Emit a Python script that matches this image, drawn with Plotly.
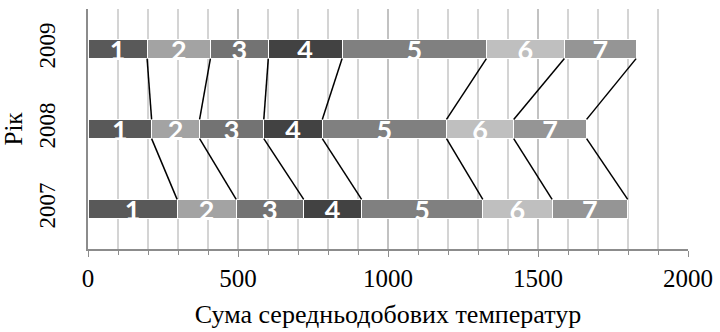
import plotly.graph_objects as go

years = ["2007", "2008", "2009"]
segment_labels = ["1", "2", "3", "4", "5", "6", "7"]
values_2007 = [297, 197, 225, 193, 404, 231, 252]
values_2008 = [212, 160, 214, 195, 414, 224, 243]
values_2009 = [197, 211, 193, 246, 481, 260, 239]
seg_colors = ["#595959", "#a3a3a3", "#737373", "#424242", "#808080", "#bfbfbf", "#959595"]

series = [values_2007, values_2008, values_2009]
ypos = [0, 1, 2]
bar_w = 0.24

fig = go.Figure()
for i, lab in enumerate(segment_labels):
    fig.add_trace(go.Bar(
        y=ypos, x=[s[i] for s in series], orientation="h", width=bar_w,
        marker=dict(color=seg_colors[i], line=dict(color="white", width=1.2)),
        text=[lab] * 3, textposition="inside", insidetextanchor="middle",
        textangle=0, constraintext="none",
        textfont=dict(family="Lato", size=27, color="white", weight="bold"),
        showlegend=False, hoverinfo="skip",
    ))

def cums(v):
    out, s = [], 0
    for a in v:
        s += a
        out.append(s)
    return out

c = [cums(s) for s in series]
lx, ly = [], []
for lower, upper in [(0, 1), (1, 2)]:
    for k in range(len(segment_labels)):
        lx += [c[upper][k], c[lower][k], None]
        ly += [ypos[upper] - bar_w / 2, ypos[lower] + bar_w / 2, None]
fig.add_trace(go.Scatter(x=lx, y=ly, mode="lines", line=dict(color="black", width=1.5),
                         showlegend=False, hoverinfo="skip"))

fig.update_layout(
    barmode="stack", width=720, height=332,
    margin=dict(l=88, r=32, t=9, b=83),
    plot_bgcolor="white", paper_bgcolor="white",
    font=dict(family="Liberation Serif", color="black"),
)
fig.update_xaxes(
    range=[0, 2000], dtick=500, tick0=0, automargin=False,
    showgrid=True, gridcolor="#c2c2c2", gridwidth=1.5,
    showline=True, linecolor="#8c8c8c", linewidth=1.5,
    ticks="outside", ticklen=6, tickcolor="#8c8c8c",
    tickfont=dict(family="Liberation Serif", size=25, color="black"),
    minor=dict(dtick=100, showgrid=True, gridcolor="#d4d4d4", ticks="outside", ticklen=4, tickcolor="#8c8c8c"),
    zeroline=False,
    title=dict(text="Сума середньодобових температур", font=dict(family="Liberation Serif", size=26), standoff=14),
)
fig.update_yaxes(
    range=[-0.5, 2.5], tickvals=ypos, ticktext=years, tickangle=-90, automargin=False,
    showgrid=False, zeroline=False,
    showline=True, linecolor="#8c8c8c", linewidth=1.5,
    ticks="outside", ticklen=22, tickcolor="rgba(0,0,0,0)",
    tickfont=dict(family="Liberation Serif", size=23, color="black"),
    title=dict(text="Рік", font=dict(family="Liberation Serif", size=25), standoff=10),
)
fig.write_html("out.html", config={"displayModeBar": False},
               post_script="document.body.style.margin='0';document.body.style.overflow='hidden';")
